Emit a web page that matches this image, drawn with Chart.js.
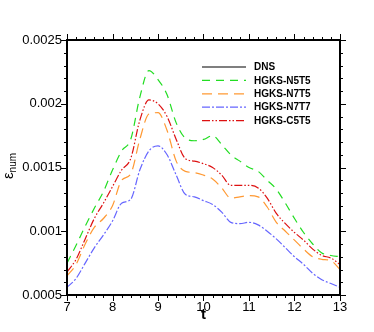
<!DOCTYPE html>
<html>
<head>
<meta charset="utf-8">
<script src="https://cdn.jsdelivr.net/npm/chart.js@4/dist/chart.umd.min.js"></script>
<style>
  html, body { margin: 0; padding: 0; background: #fff; }
  #wrap { width: 374px; height: 332px; }
</style>
</head>
<body>
<div id="wrap"><canvas id="chart"></canvas></div>
<script>
const tValues = [7.0, 7.2, 7.4, 7.6, 7.8, 8.0, 8.2, 8.4, 8.6, 8.8, 9.0, 9.2, 9.4, 9.6, 9.8, 10.0,
  10.2, 10.4, 10.6, 10.8, 11.0, 11.2, 11.4, 11.6, 11.8, 12.0, 12.2, 12.4, 12.6, 12.8, 13.0]

const dns = []
const n5t5 = [0.00075, 0.00089, 0.00104, 0.00118, 0.00131, 0.00148, 0.00163, 0.00172, 0.00205, 0.00226, 0.00219,
  0.00207, 0.00185, 0.00173, 0.00171, 0.00172, 0.00175, 0.00168, 0.0016, 0.00155, 0.0015, 0.00147, 0.0014,
  0.00133, 0.00122, 0.0011, 0.00099, 0.0009, 0.00083, 0.00081, 0.0008]
const n7t5 = [0.00065, 0.00074, 0.0009, 0.00103, 0.0011, 0.0012, 0.0014, 0.00145, 0.00172, 0.00192, 0.00193,
  0.00179, 0.00155, 0.00147, 0.00146, 0.00144, 0.00141, 0.00134, 0.00126, 0.00127, 0.00128, 0.00127, 0.00119,
  0.00107, 0.001, 0.00093, 0.00086, 0.0008, 0.00078, 0.00077, 0.0007]
const n7t7 = [0.00056, 0.00063, 0.00075, 0.00087, 0.00097, 0.00108, 0.00122, 0.00125, 0.00148, 0.00163, 0.00167,
  0.0016, 0.00144, 0.00129, 0.00127, 0.00124, 0.00121, 0.00115, 0.00107, 0.00106, 0.00107, 0.00105, 0.001,
  0.00094, 0.00087, 0.0008, 0.00074, 0.00067, 0.00062, 0.00059, 0.00056]
const c5t5 = [0.00068, 0.00078, 0.00094, 0.0011, 0.00122, 0.00135, 0.00148, 0.00157, 0.00187, 0.00203, 0.002,
  0.0019, 0.00172, 0.00157, 0.00155, 0.00153, 0.0015, 0.00144, 0.00136, 0.00136, 0.00136, 0.00134, 0.00126,
  0.00114, 0.00106, 0.00099, 0.00093, 0.00086, 0.00081, 0.00079, 0.00074]

const xTicks = [7, 8, 9, 10, 11, 12, 13]
const yTicks = [0.0005, 0.001, 0.0015, 0.002, 0.0025]

const series = [
  { label: 'DNS', data: dns, color: '#000000', dash: [] },
  { label: 'HGKS-N5T5', data: n5t5, color: '#22dd22', dash: [8, 6] },
  { label: 'HGKS-N7T5', data: n7t5, color: '#ff9933', dash: [10, 6] },
  { label: 'HGKS-N7T7', data: n7t7, color: '#6666ff', dash: [8, 2, 2, 2] },
  { label: 'HGKS-C5T5', data: c5t5, color: '#dd1111', dash: [8, 2, 1.5, 2, 1.5, 2] }
]

const datasets = series.map(s => ({
  label: s.label,
  data: s.data.map((v, i) => ({ x: tValues[i], y: v })),
  borderColor: s.color,
  backgroundColor: s.color,
  borderWidth: 1.2,
  borderDash: s.dash,
  fill: false,
  pointRadius: 0,
  cubicInterpolationMode: 'monotone'
}))

// frame, outward ticks, axis titles and legend, tecplot style
const decor = {
  id: 'decor',
  afterDraw(chart) {
    const ctx = chart.ctx
    const a = chart.chartArea
    const xs = chart.scales.x
    const ys = chart.scales.y
    ctx.save()
    ctx.strokeStyle = '#000'
    ctx.lineWidth = 1
    for (let t = 7; t <= 13.0001; t += 0.2) {
      const px = Math.round(xs.getPixelForValue(t)) + 0.5
      const major = Math.abs(t - Math.round(t)) < 0.01
      const len = major ? 6 : 3
      ctx.beginPath()
      ctx.moveTo(px, a.bottom); ctx.lineTo(px, a.bottom + len)
      ctx.moveTo(px, a.top); ctx.lineTo(px, a.top - len)
      ctx.stroke()
    }
    for (let k = 5; k <= 25; k++) {
      const py = Math.round(ys.getPixelForValue(k * 0.0001)) + 0.5
      const len = k % 5 === 0 ? 6 : 3
      ctx.beginPath()
      ctx.moveTo(a.left, py); ctx.lineTo(a.left - len, py)
      ctx.moveTo(a.right, py); ctx.lineTo(a.right + len, py)
      ctx.stroke()
    }
    ctx.lineWidth = 2
    ctx.strokeRect(a.left, a.top, a.right - a.left, a.bottom - a.top)

    // x title
    ctx.fillStyle = '#000'
    ctx.font = 'bold 15px "Liberation Sans", Arial, sans-serif'
    ctx.textAlign = 'center'
    ctx.textBaseline = 'middle'
    ctx.fillText('t', (a.left + a.right) / 2, 315)

    // y title epsilon_num
    ctx.save()
    ctx.translate(8, 166)
    ctx.rotate(-Math.PI / 2)
    ctx.textAlign = 'left'
    ctx.textBaseline = 'alphabetic'
    ctx.font = '15px "Liberation Sans", Arial, sans-serif'
    const ew = ctx.measureText('ε').width
    ctx.font = '10px "Liberation Sans", Arial, sans-serif'
    const nw = ctx.measureText('num').width
    const x0 = -(ew + nw) / 2
    ctx.font = '15px "Liberation Sans", Arial, sans-serif'
    ctx.fillText('ε', x0, 5)
    ctx.font = '10px "Liberation Sans", Arial, sans-serif'
    ctx.fillText('num', x0 + ew, 8)
    ctx.restore()

    // legend
    ctx.font = 'bold 10px "Liberation Sans", Arial, sans-serif'
    ctx.textAlign = 'left'
    ctx.textBaseline = 'middle'
    series.forEach((s, i) => {
      const y = 67 + i * 13.4
      ctx.strokeStyle = s.color
      ctx.lineWidth = 1.2
      ctx.setLineDash(s.dash)
      ctx.beginPath()
      ctx.moveTo(202, y); ctx.lineTo(246, y)
      ctx.stroke()
      ctx.setLineDash([])
      ctx.fillStyle = '#000'
      ctx.fillText(s.label, 254, y + 0.5)
    })
    ctx.restore()
  }
}

new Chart(document.getElementById('chart'), {
  type: 'line',
  data: { datasets },
  options: {
    responsive: true,
    maintainAspectRatio: false,
    animation: false,
    layout: { padding: { top: 40, right: 34, left: 0, bottom: 0 } },
    plugins: {
      legend: { display: false },
      tooltip: { enabled: false }
    },
    scales: {
      x: {
        type: 'linear',
        min: 7,
        max: 13,
        afterFit: scale => { scale.height = 37 },
        afterBuildTicks: scale => { scale.ticks = xTicks.map(v => ({ value: v })) },
        grid: { display: false, drawTicks: false },
        border: { display: false },
        ticks: {
          padding: 5,
          color: '#000',
          font: { family: '"Liberation Sans", Arial, sans-serif', size: 13 }
        }
      },
      y: {
        type: 'linear',
        min: 0.0005,
        max: 0.0025,
        afterFit: scale => { scale.width = 67 },
        afterBuildTicks: scale => { scale.ticks = yTicks.map(v => ({ value: v })) },
        grid: { display: false, drawTicks: false },
        border: { display: false },
        ticks: {
          padding: 5,
          color: '#000',
          font: { family: '"Liberation Sans", Arial, sans-serif', size: 13 },
          callback: v => String(Number(v.toFixed(4)))
        }
      }
    }
  },
  plugins: [decor]
})
</script>
</body>
</html>
